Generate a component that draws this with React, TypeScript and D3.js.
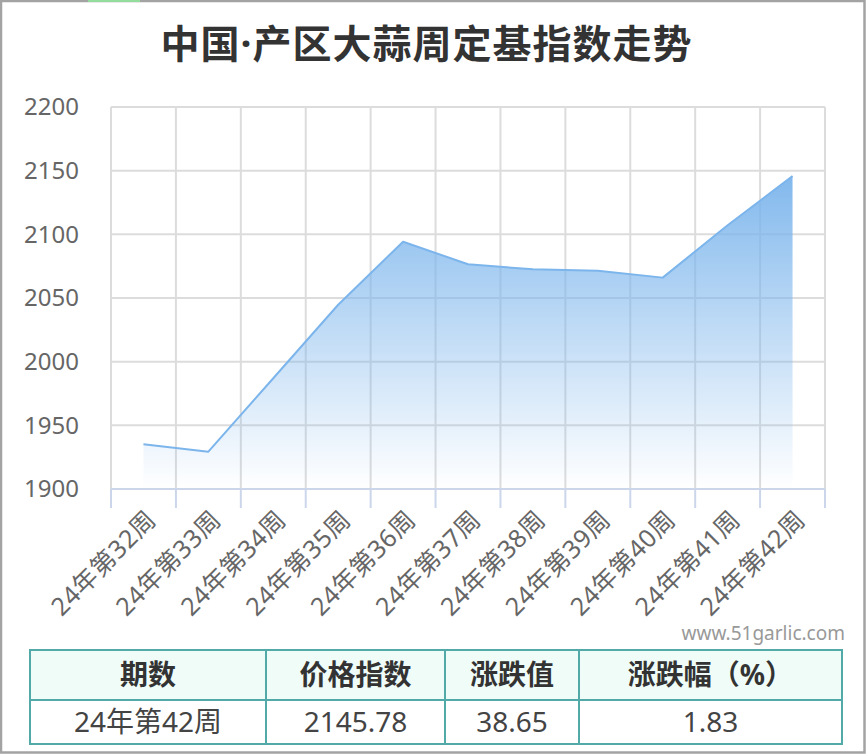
import React from "react";
import * as d3 from "d3";

const title = "中国·产区大蒜周定基指数走势";
const weeks = ["24年第32周","24年第33周","24年第34周","24年第35周","24年第36周","24年第37周","24年第38周","24年第39周","24年第40周","24年第41周","24年第42周"];
const indexValues = [1935.1, 1929.3, 1987, 2044.7, 2094.2, 2076.5, 2072.5, 2071.4, 2066, 2107.13, 2145.78];
const yTicks = [1900, 1950, 2000, 2050, 2100, 2150, 2200];
const tableHeaders = ["期数", "价格指数", "涨跌值", "涨跌幅（%）"];
const tableValues = ["24年第42周", "2145.78", "38.65", "1.83"];
const watermark = "www.51garlic.com";

const W = 867, H = 755;
const FONT = "'Noto Sans', 'Noto Sans CJK SC', sans-serif";

export default function App() {
  const left = 111, right = 825, top = 107, bottom = 489;
  const x = d3.scaleBand<string>().domain(weeks).range([left, right]);
  const y = d3.scaleLinear().domain([1900, 2200]).range([bottom, top]);
  const cx = (w: string) => (x(w) as number) + x.bandwidth() / 2;
  const pts = weeks.map((w, i) => [cx(w), indexValues[i]] as [number, number]);
  const line = d3.line<[number, number]>().x(d => d[0]).y(d => y(d[1]))(pts) || "";
  const area = d3.area<[number, number]>().x(d => d[0]).y0(bottom).y1(d => y(d[1]))(pts) || "";
  const boundaries = [...weeks.map(w => x(w) as number), right];

  const colEdges = [30, 266, 445, 579, 842];
  const tTop = 650, tMid = 700, tBot = 744;

  return (
    <svg width={W} height={H} style={{ position: "absolute", left: 0, top: 0, background: "#fff" }} fontFamily={FONT}>
      <defs>
        <linearGradient id="areaGrad" x1="0" y1="0" x2="0" y2="1">
          <stop offset="0" stopColor="#7cb5ec" stopOpacity={0.95} />
          <stop offset="1" stopColor="#7cb5ec" stopOpacity={0} />
        </linearGradient>
      </defs>
      <rect x={0} y={0} width={W} height={H} fill="#fff" />
      {/* frame */}
      <rect x={1} y={1} width={W - 3.5} height={H - 3.5} fill="none" stroke="#a3a3a3" strokeWidth={2.5} />
      <line x1={88} x2={140} y1={1} y2={1} stroke="#92dd9c" strokeWidth={2} />

      <text x={W / 2 - 7} y={58} textAnchor="middle" fontSize={39} fontWeight="bold" fill="#333" letterSpacing={1}>{title}</text>

      {/* grid */}
      {yTicks.filter(t => t !== 1900).map(t => (
        <line key={t} x1={left} x2={right} y1={y(t)} y2={y(t)} stroke="#dcdcdc" strokeWidth={2} />
      ))}
      {boundaries.map((bx, i) => (
        <line key={i} x1={bx} x2={bx} y1={top} y2={bottom} stroke="#dcdcdc" strokeWidth={2} />
      ))}
      {/* area and line */}
      <path d={area} fill="url(#areaGrad)" />
      <path d={line} fill="none" stroke="#7cb5ec" strokeWidth={2} strokeLinejoin="round" />
      {/* x axis */}
      <line x1={left} x2={right} y1={bottom} y2={bottom} stroke="#ccd6eb" strokeWidth={2} />
      {boundaries.map((bx, i) => (
        <line key={i} x1={bx} x2={bx} y1={bottom} y2={bottom + 19} stroke="#ccd6eb" strokeWidth={2} />
      ))}
      {yTicks.map(t => (
        <text key={t} x={79} y={y(t)} dy="0.35em" textAnchor="end" fontSize={24} fill="#666">{t}</text>
      ))}
      {weeks.map(w => (
        <text key={w} transform={`translate(${cx(w) + 8},${bottom + 26}) rotate(-45)`} textAnchor="end" dy="0.35em" fontSize={25} fill="#666" letterSpacing={0.5}>{w}</text>
      ))}
      <text x={845} y={633} dy="0.35em" textAnchor="end" fontSize={19} fill="#999">{watermark}</text>

      {/* table */}
      <rect x={colEdges[0]} y={tTop} width={colEdges[4] - colEdges[0]} height={tMid - tTop} fill="#effcf8" />
      <rect x={colEdges[0]} y={tTop} width={colEdges[4] - colEdges[0]} height={tBot - tTop} fill="none" stroke="#52aaa8" strokeWidth={2} />
      <line x1={colEdges[0]} x2={colEdges[4]} y1={tMid} y2={tMid} stroke="#52aaa8" strokeWidth={2} />
      {colEdges.slice(1, 4).map((cxe, i) => (
        <line key={i} x1={cxe} x2={cxe} y1={tTop} y2={tBot} stroke="#52aaa8" strokeWidth={2} />
      ))}
      {tableHeaders.map((h, i) => (
        <text key={h} x={(colEdges[i] + colEdges[i + 1]) / 2} y={(tTop + tMid) / 2} dy="0.36em" textAnchor="middle" fontSize={28} fontWeight="bold" fill="#333">{h}</text>
      ))}
      {tableValues.map((v, i) => (
        <text key={i} x={(colEdges[i] + colEdges[i + 1]) / 2} y={(tMid + tBot) / 2} dy="0.36em" textAnchor="middle" fontSize={28} fill="#444">{v}</text>
      ))}
    </svg>
  );
}
